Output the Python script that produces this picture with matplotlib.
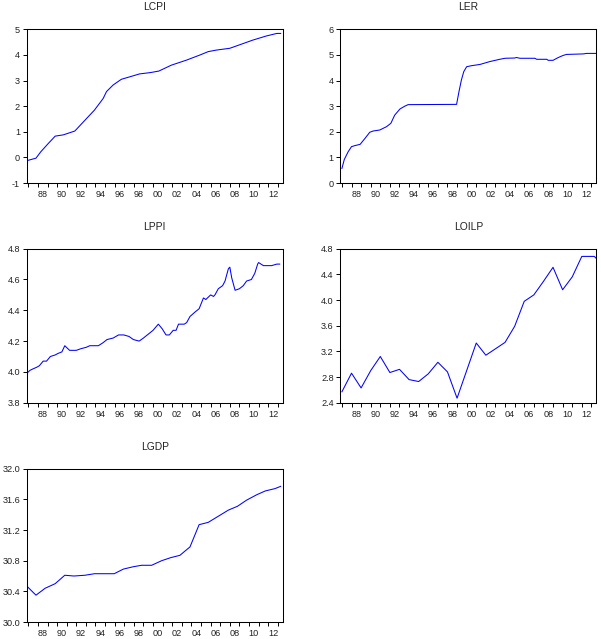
import numpy as np
import matplotlib
matplotlib.use('Agg')
import matplotlib.pyplot as plt

# ============================================================================ #
# series (vertices as decimal years, values)

lcpi_t = [1986.83, 1987.8, 1988.3, 1989.1, 1989.8, 1990.65, 1991.85, 1992.6,
          1993.9, 1994.8, 1995.15, 1995.85, 1996.7, 1997.25, 1998.6, 1999.7,
          2000.6, 2001.9, 2003.5, 2004.9, 2005.75, 2006.6, 2008.0, 2010.4,
          2011.8, 2012.9, 2013.3]
lcpi_v = [-0.13, -0.03, 0.22, 0.55, 0.83, 0.88, 1.03, 1.33,
          1.85, 2.30, 2.57, 2.83, 3.05, 3.11, 3.26, 3.31,
          3.37, 3.60, 3.80, 4.00, 4.13, 4.19, 4.26, 4.58,
          4.74, 4.84, 4.84]

ler_t = [1987.0, 1987.25, 1987.65, 1988.0, 1988.35, 1988.9, 1989.4, 1989.9,
         1990.25, 1990.95, 1991.65, 1992.1, 1992.5, 1993.05, 1993.55, 1993.9,
         1998.95, 1999.2, 1999.45, 1999.7, 2000.0, 2000.5, 2001.4, 2002.4,
         2003.45, 2004.0, 2005.0, 2005.2, 2005.55, 2007.1, 2007.3, 2008.35,
         2008.5, 2009.0, 2009.55, 2010.05, 2010.4, 2012.15, 2012.5, 2013.5]
ler_v = [0.57, 0.92, 1.22, 1.42, 1.46, 1.51, 1.74, 1.98,
         2.03, 2.07, 2.20, 2.33, 2.65, 2.89, 3.00, 3.06,
         3.07, 3.57, 4.02, 4.35, 4.54, 4.58, 4.63, 4.74,
         4.83, 4.87, 4.88, 4.90, 4.87, 4.87, 4.83, 4.83,
         4.79, 4.79, 4.90, 4.98, 5.02, 5.04, 5.06, 5.06]

lppi_t = [1986.83, 1987.17, 1987.5, 1987.87, 1988.15, 1988.55, 1988.9, 1989.3,
          1989.8, 1990.1, 1990.5, 1990.8, 1991.3, 1992.0, 1992.45, 1993.05,
          1993.4, 1994.3, 1994.8, 1995.2, 1995.85, 1996.4, 1996.95, 1997.5,
          1997.95, 1998.55, 1999.0, 1999.6, 2000.0, 2000.55, 2000.95, 2001.35,
          2001.7, 2002.1, 2002.4, 2002.65, 2003.25, 2003.5, 2003.85, 2004.4,
          2004.8, 2005.25, 2005.5, 2006.0, 2006.3, 2006.45, 2006.8, 2007.25,
          2007.5, 2007.85, 2008.0, 2008.2, 2008.55, 2009.0, 2009.4, 2009.75,
          2010.25, 2010.6, 2010.9, 2011.0, 2011.5, 2012.35, 2012.9, 2013.2]
lppi_v = [3.99, 4.01, 4.02, 4.03, 4.04, 4.07, 4.07, 4.10,
          4.11, 4.12, 4.13, 4.17, 4.14, 4.14, 4.15, 4.16,
          4.17, 4.17, 4.19, 4.21, 4.22, 4.24, 4.24, 4.23,
          4.21, 4.20, 4.22, 4.25, 4.27, 4.31, 4.28, 4.24,
          4.24, 4.27, 4.27, 4.31, 4.31, 4.32, 4.36, 4.39,
          4.41, 4.48, 4.47, 4.50, 4.49, 4.50, 4.54, 4.56,
          4.59, 4.67, 4.68, 4.61, 4.53, 4.54, 4.56, 4.59,
          4.60, 4.64, 4.70, 4.71, 4.69, 4.69, 4.70, 4.70]

loilp_t = [1987.0, 1988.0, 1989.0, 1990.0, 1991.0, 1992.0, 1993.0, 1994.0,
           1995.0, 1996.0, 1997.0, 1998.0, 1999.0, 2001.0, 2002.0, 2003.0,
           2004.0, 2005.0, 2006.0, 2007.0, 2008.0, 2009.0, 2010.0, 2011.0,
           2012.0, 2013.3, 2013.5]
loilp_v = [2.57, 2.86, 2.63, 2.90, 3.12, 2.87, 2.92, 2.76,
           2.73, 2.85, 3.03, 2.88, 2.47, 3.33, 3.14, 3.24,
           3.34, 3.59, 3.98, 4.08, 4.29, 4.51, 4.16, 4.36,
           4.68, 4.68, 4.65]

lgdp_t = [1986.83, 1987.8, 1988.75, 1989.8, 1990.8, 1991.75, 1992.9, 1993.9,
          1994.8, 1995.95, 1996.9, 1997.9, 1998.8, 1999.85, 2000.9, 2001.85,
          2002.8, 2003.85, 2004.8, 2005.75, 2006.8, 2007.85, 2008.8, 2009.75,
          2010.8, 2011.7, 2012.7, 2013.3]
lgdp_v = [30.47, 30.35, 30.44, 30.50, 30.61, 30.60, 30.61, 30.63,
          30.63, 30.63, 30.69, 30.72, 30.74, 30.74, 30.80, 30.84,
          30.87, 30.98, 31.27, 31.30, 31.38, 31.46, 31.51, 31.59,
          31.66, 31.71, 31.74, 31.77]

# axis settings per panel
lcpi_ticks = [-1, 0, 1, 2, 3, 4, 5]
ler_ticks = [0, 1, 2, 3, 4, 5, 6]
lppi_ticks = [3.8, 4.0, 4.2, 4.4, 4.6, 4.8]
loilp_ticks = [2.4, 2.8, 3.2, 3.6, 4.0, 4.4, 4.8]
lgdp_ticks = [30.0, 30.4, 30.8, 31.2, 31.6, 32.0]

year_ticks = list(range(1987, 2014))
label_years = list(range(1988, 2013, 2))

# ============================================================================ #

plt.rcParams['font.family'] = ['Liberation Sans', 'DejaVu Sans']

fig = plt.figure(figsize=(6.01, 6.39), dpi=100)

# panel rectangles in figure fractions
left_x, right_x, w = 0.0444, 0.5662, 0.4263
rows = [(0.7136, 0.2405), (0.3698, 0.2410), (0.0266, 0.2399)]

panels = [
    ('LCPI', lcpi_t, lcpi_v, lcpi_ticks, '%d', left_x, rows[0]),
    ('LER', ler_t, ler_v, ler_ticks, '%d', right_x, rows[0]),
    ('LPPI', lppi_t, lppi_v, lppi_ticks, '%.1f', left_x, rows[1]),
    ('LOILP', loilp_t, loilp_v, loilp_ticks, '%.1f', right_x, rows[1]),
    ('LGDP', lgdp_t, lgdp_v, lgdp_ticks, '%.1f', left_x, rows[2]),
]

for name, t, v, yt, fmt, x0, (y0, h) in panels:
    ax = fig.add_axes([x0, y0, w, h])
    ax.plot(t, v, color='#0000ff', linewidth=0.75)
    ax.set_xlim(1986.83, 2013.53)
    ax.set_ylim(yt[0], yt[-1])

    # year boundaries get the tick marks, labels sit mid-year
    ax.set_xticks(year_ticks)
    ax.set_xticklabels([])
    ax.set_xticks([y + 0.5 for y in label_years], minor=True)
    ax.set_xticklabels(['%02d' % (y % 100) for y in label_years], minor=True)
    ax.tick_params(axis='x', which='major', direction='out', length=3,
                   width=0.7, color='black')
    ax.tick_params(axis='x', which='minor', length=0, pad=5,
                   labelsize=6.6, labelcolor='#222222')

    ax.set_yticks(yt)
    ax.set_yticklabels([fmt % val for val in yt])
    ax.tick_params(axis='y', direction='out', length=3.2, width=0.7,
                   pad=1.6, labelsize=6.6, labelcolor='#222222')

    for sp in ax.spines.values():
        sp.set_linewidth(0.75)
        sp.set_color('black')

    ax.text(0.5, 1.143, name, transform=ax.transAxes, ha='center',
            va='center', fontsize=7.4, color='#222222')

fig.savefig('out.png', dpi=100)
